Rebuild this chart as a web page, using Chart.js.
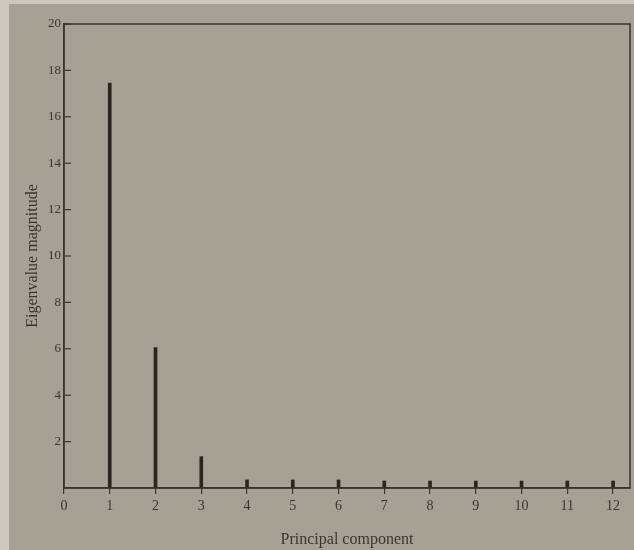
<!DOCTYPE html>
<html>
<head>
<meta charset="utf-8">
<script src="https://cdn.jsdelivr.net/npm/chart.js@4/dist/chart.umd.min.js"></script>
<style>
  html, body { margin: 0; padding: 0; background: #cfccc3; }
  #wrap { position: relative; width: 634px; height: 550px; }
  canvas {
    background:
      linear-gradient(to right, #cbc8bf 0 9px, transparent 9px),
      linear-gradient(to bottom, #cbc8bf 0 4px, transparent 4px),
      #a6a194;
  }
</style>
</head>
<body>
<div id="wrap"><canvas id="c" width="634" height="550"></canvas></div>
<script>
// ---- data ----
const components = [1, 2, 3, 4, 5, 6, 7, 8, 9, 10, 11, 12];
const eigenvalues = [17.45, 6.05, 1.35, 0.35, 0.35, 0.35, 0.3, 0.3, 0.3, 0.3, 0.3, 0.3];
const yTickValues = [2, 4, 6, 8, 10, 12, 14, 16, 18, 20];
const xTickValues = [0, 1, 2, 3, 4, 5, 6, 7, 8, 9, 10, 11, 12];

const ink = '#3a3530';
const serif = '"Liberation Serif", "DejaVu Serif", serif';

const framePlugin = {
  id: 'frame',
  afterDraw(chart) {
    const { ctx, chartArea: a, scales } = chart;
    ctx.save();
    ctx.strokeStyle = ink;
    ctx.lineWidth = 1.5;
    ctx.strokeRect(a.left, a.top, a.right - a.left, a.bottom - a.top);
    // inward y ticks
    ctx.lineWidth = 1.2;
    yTickValues.forEach(v => {
      const y = scales.y.getPixelForValue(v);
      ctx.beginPath();
      ctx.moveTo(a.left, y);
      ctx.lineTo(a.left + 7, y);
      ctx.stroke();
    });
    ctx.restore();
  }
};

new Chart(document.getElementById('c'), {
  type: 'bar',
  data: {
    datasets: [{
      data: components.map((c, i) => ({ x: c, y: eigenvalues[i] })),
      backgroundColor: '#2a2521',
      borderWidth: 0,
      barThickness: 3
    }]
  },
  options: {
    responsive: false,
    animation: false,
    layout: { padding: { top: 24, right: 4, left: 0, bottom: 0 } },
    plugins: { legend: { display: false }, tooltip: { enabled: false } },
    scales: {
      x: {
        type: 'linear',
        min: 0,
        max: 12.37,
        offset: false,
        grid: { display: true, drawOnChartArea: false, drawTicks: true, tickLength: 6, color: ink, lineWidth: 1.2, offset: false },
        border: { display: true, color: ink, width: 1.5 },
        ticks: {
          stepSize: 1,
          includeBounds: false,
          autoSkip: false,
          maxRotation: 0,
          padding: 4,
          color: ink,
          font: { family: serif, size: 14 },
          callback: (v) => xTickValues.includes(v) ? String(v) : ''
        },
        title: {
          display: true,
          text: 'Principal component',
          color: ink,
          font: { family: serif, size: 16 },
          padding: { top: 0, bottom: 1 }
        },
        afterFit: (s) => { s.height = 62; }
      },
      y: {
        min: 0,
        max: 20,
        grid: { display: false, drawTicks: false },
        border: { display: true, color: ink, width: 1.5 },
        ticks: {
          stepSize: 2,
          padding: 3,
          color: ink,
          font: { family: serif, size: 13 },
          callback: (v) => yTickValues.includes(v) ? String(v) : ''
        },
        title: {
          display: true,
          text: 'Eigenvalue magnitude',
          color: ink,
          font: { family: serif, size: 16 },
          padding: { top: 23, bottom: 0 }
        },
        afterFit: (s) => { s.width = 64; }
      }
    }
  },
  plugins: [framePlugin]
});
</script>
</body>
</html>
